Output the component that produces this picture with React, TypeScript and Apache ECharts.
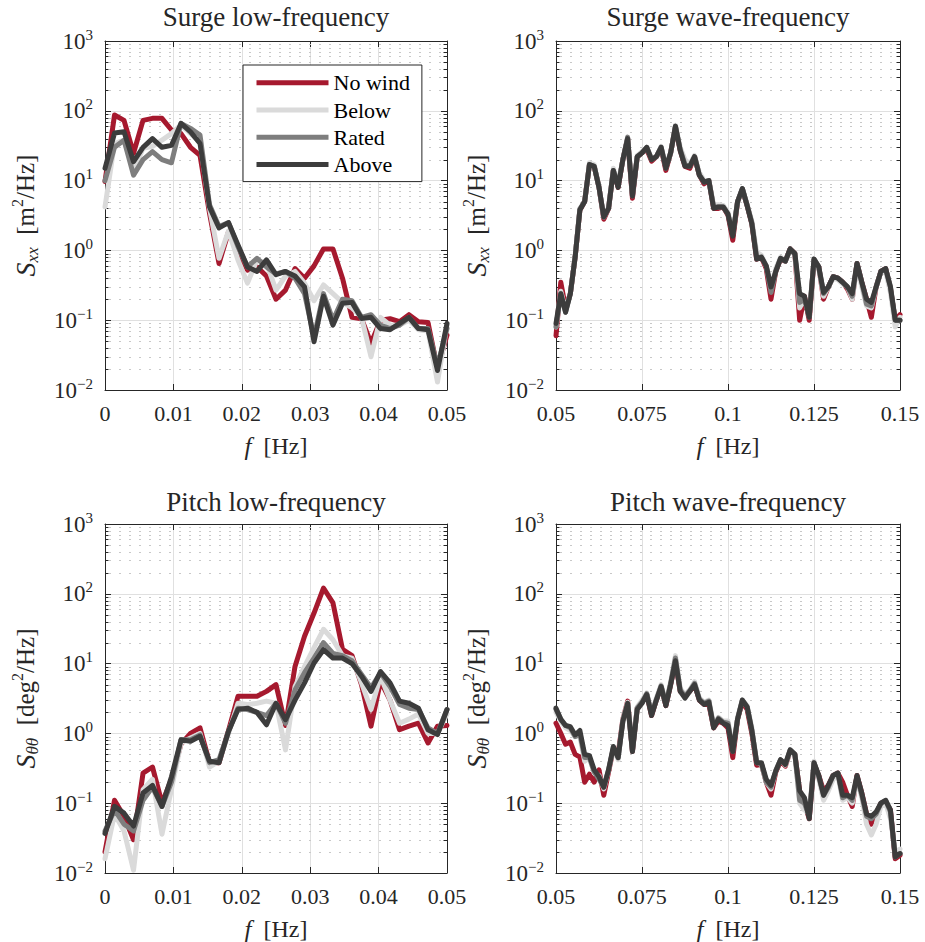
import React, { useEffect, useRef } from "react";
import * as echarts from "echarts";

const FONT = "Liberation Serif";
const INK = "#262626";

const seriesNames = ["No wind", "Below", "Rated", "Above"];
const seriesColors = ["#A6192E", "#DADADA", "#7E7E7E", "#3C3C3C"];

const panelTitles = [
  "Surge low-frequency",
  "Surge wave-frequency",
  "Pitch low-frequency",
  "Pitch wave-frequency",
];

// frequency grids [Hz]
const lowFreq = [
  0, 0.00139, 0.00278, 0.00417, 0.00556, 0.00694, 0.00833, 0.00972, 0.01111, 0.0125,
  0.01389, 0.01528, 0.01667, 0.01806, 0.01944, 0.02083, 0.02222, 0.02361, 0.025, 0.02639,
  0.02778, 0.02917, 0.03056, 0.03194, 0.03333, 0.03472, 0.03611, 0.0375, 0.03889, 0.04028,
  0.04167, 0.04306, 0.04444, 0.04583, 0.04722, 0.04861, 0.05,
];
const waveFreq = [
  0.05, 0.05139, 0.05278, 0.05417, 0.05556, 0.05694, 0.05833, 0.05972, 0.06111, 0.0625,
  0.06389, 0.06528, 0.06667, 0.06806, 0.06944, 0.07083, 0.07222, 0.07361, 0.075, 0.07639,
  0.07778, 0.07917, 0.08056, 0.08194, 0.08333, 0.08472, 0.08611, 0.0875, 0.08889, 0.09028,
  0.09167, 0.09306, 0.09444, 0.09583, 0.09722, 0.09861, 0.1, 0.10139, 0.10278, 0.10417,
  0.10556, 0.10694, 0.10833, 0.10972, 0.11111, 0.1125, 0.11389, 0.11528, 0.11667, 0.11806,
  0.11944, 0.12083, 0.12222, 0.12361, 0.125, 0.12639, 0.12778, 0.12917, 0.13056, 0.13194,
  0.13333, 0.13472, 0.13611, 0.1375, 0.13889, 0.14028, 0.14167, 0.14306, 0.14444, 0.14583,
  0.14722, 0.14861, 0.15,
];

// tick values
const lowTicks = [0, 0.01, 0.02, 0.03, 0.04, 0.05];
const waveTicks = [0.05, 0.075, 0.1, 0.125, 0.15];
const yDecades = [0.01, 0.1, 1, 10, 100, 1000];
const yMinorTicks = [
  0.02, 0.03, 0.04, 0.05, 0.06, 0.07, 0.08, 0.09,
  0.2, 0.3, 0.4, 0.5, 0.6, 0.7, 0.8, 0.9,
  2, 3, 4, 5, 6, 7, 8, 9,
  20, 30, 40, 50, 60, 70, 80, 90,
  200, 300, 400, 500, 600, 700, 800, 900,
];

// Surge low-frequency S_xx [m^2/Hz]
const surgeLowNoWind = [
  9.7, 87, 73, 24.6, 73, 78, 78, 53, 47, 30, 23, 3.4, 0.65, 1.85, 0.96, 0.52, 0.58, 0.43, 0.2,
  0.27, 0.55, 0.4, 0.6, 1.05, 1.05, 0.4, 0.11, 0.105, 0.047, 0.1, 0.105, 0.095, 0.12, 0.095,
  0.093, 0.02, 0.061,
];
const surgeLowBelow = [
  4.2, 34, 38, 14, 29, 31, 38, 47, 63, 47, 36, 4, 0.77, 1.9, 0.73, 0.34, 0.73, 0.65, 0.27, 0.43,
  0.5, 0.34, 0.19, 0.32, 0.24, 0.18, 0.15, 0.11, 0.03, 0.11, 0.085, 0.085, 0.1, 0.073, 0.07,
  0.013, 0.085,
];
const surgeLowRated = [
  10, 30, 38, 12, 20, 26, 20, 18, 66, 56, 45, 4.5, 2.2, 2.5, 1.13, 0.58, 0.77, 0.58, 0.46, 0.5,
  0.4, 0.24, 0.057, 0.24, 0.1, 0.2, 0.19, 0.11, 0.12, 0.085, 0.076, 0.085, 0.11, 0.076, 0.076,
  0.022, 0.076,
];
const surgeLowAbove = [
  15, 48, 50, 18.7, 30, 40, 30, 32, 66, 50, 34, 4.2, 2.1, 2.5, 1.2, 0.58, 0.5, 0.73, 0.45, 0.5,
  0.43, 0.3, 0.049, 0.22, 0.085, 0.175, 0.18, 0.106, 0.11, 0.076, 0.073, 0.09, 0.11, 0.076,
  0.073, 0.019, 0.09,
];

// Surge wave-frequency S_xx [m^2/Hz]
const surgeWaveNoWind = [
  0.06, 0.35, 0.15, 0.24, 0.8, 3.8, 5, 17, 16, 8, 2.8, 4, 14, 8, 20, 40, 5.6, 22, 25, 28, 19, 22,
  29, 14, 25, 58, 27, 16, 15, 22, 12, 9, 10, 4, 4, 4.2, 3.2, 1.4, 5, 7.5, 4.4, 2.4, 0.75, 0.8,
  0.55, 0.2, 0.5, 0.75, 0.7, 1.05, 0.9, 0.1, 0.22, 0.1, 0.72, 0.58, 0.2, 0.3, 0.42, 0.4, 0.35,
  0.28, 0.2, 0.65, 0.35, 0.2, 0.11, 0.3, 0.5, 0.55, 0.28, 0.1, 0.12,
];
const surgeWaveBelow = [
  0.08, 0.26, 0.14, 0.24, 0.85, 4, 5, 18, 17, 8, 3, 4.2, 15, 9, 20, 40, 6.5, 23, 26, 30, 21, 22,
  31, 16, 25, 62, 30, 20, 17, 23, 13, 10, 10, 4.5, 4.5, 4.4, 3.5, 1.8, 5, 7.7, 4.6, 2.6, 0.95,
  0.85, 0.6, 0.3, 0.55, 0.8, 0.7, 1.0, 0.9, 0.15, 0.2, 0.12, 0.75, 0.55, 0.22, 0.3, 0.4, 0.38,
  0.33, 0.3, 0.2, 0.6, 0.3, 0.16, 0.15, 0.3, 0.48, 0.5, 0.25, 0.08, 0.11,
];
const surgeWaveRated = [
  0.08, 0.24, 0.13, 0.24, 0.8, 3.9, 5, 17, 16, 8, 3, 4, 14, 8.5, 20, 42, 6, 22, 25, 30, 20, 22,
  30, 15, 25, 60, 28, 17, 16, 22, 12, 9.5, 10, 4.2, 4.2, 4.2, 3.3, 1.7, 5, 7.7, 4.4, 2.5, 0.8,
  0.8, 0.6, 0.25, 0.5, 0.77, 0.7, 1.05, 0.9, 0.18, 0.2, 0.11, 0.75, 0.58, 0.24, 0.3, 0.42, 0.4,
  0.35, 0.3, 0.22, 0.65, 0.35, 0.17, 0.16, 0.3, 0.5, 0.55, 0.3, 0.1, 0.1,
];
const surgeWaveAbove = [
  0.09, 0.24, 0.13, 0.24, 0.8, 3.8, 5, 17, 16, 8, 3, 4, 14, 8, 20, 40, 6, 22, 25, 30, 20, 22, 30,
  15, 25, 60, 27, 16, 16, 22, 12, 9.5, 10, 4, 4.2, 4.2, 3.3, 1.6, 5, 7.7, 4.4, 2.4, 0.75, 0.8,
  0.6, 0.3, 0.5, 0.77, 0.7, 1.05, 0.9, 0.24, 0.22, 0.11, 0.75, 0.58, 0.25, 0.3, 0.42, 0.4, 0.35,
  0.3, 0.24, 0.65, 0.35, 0.2, 0.18, 0.3, 0.5, 0.55, 0.3, 0.1, 0.1,
];

// Pitch low-frequency S_theta-theta [deg^2/Hz]
const pitchLowNoWind = [
  0.02, 0.11, 0.065, 0.03, 0.27, 0.33, 0.1, 0.22, 0.7, 1.0, 1.2, 0.38, 0.38, 1.1, 3.4, 3.4, 3.4,
  4.0, 5.0, 1.3, 9.1, 24.6, 53, 121, 74, 16, 13, 5, 1.27, 5.6, 3.0, 1.13, 1.27, 1.4, 0.73, 1.27,
  1.3,
];
const pitchLowBelow = [
  0.016, 0.07, 0.04, 0.011, 0.156, 0.22, 0.036, 0.16, 0.73, 0.86, 1.0, 0.33, 0.4, 1.0, 2.7, 2.6,
  2.7, 2.9, 2.7, 0.58, 4.7, 9.1, 17, 31, 22, 13, 12, 5.3, 2.2, 6.6, 3.0, 1.4, 1.6, 1.9, 1.0, 1.0,
  1.9,
];
const pitchLowRated = [
  0.04, 0.08, 0.05, 0.04, 0.11, 0.17, 0.09, 0.2, 0.81, 0.81, 0.95, 0.38, 0.42, 1.07, 2.3, 2.2,
  2.0, 1.8, 2.7, 1.4, 4.2, 7.4, 12, 20, 14, 13, 11, 7, 4.5, 7.4, 4.7, 2.6, 2.3, 2.2, 1.2, 1.0,
  2.2,
];
const pitchLowAbove = [
  0.037, 0.09, 0.072, 0.047, 0.14, 0.18, 0.09, 0.24, 0.81, 0.77, 0.91, 0.4, 0.38, 1.07, 2.2, 2.3,
  2.0, 1.33, 2.7, 1.57, 3.0, 5.3, 10.2, 15.8, 12, 12, 10, 6.6, 4.0, 7.7, 5.3, 2.9, 2.7, 2.3,
  1.13, 0.96, 2.2,
];

// Pitch wave-frequency S_theta-theta [deg^2/Hz]
const pitchWaveNoWind = [
  1.4, 1.0, 0.7, 0.75, 0.5, 0.46, 0.2, 0.26, 0.2, 0.3, 0.13, 0.28, 0.6, 0.5, 1.6, 2.9, 0.55, 2.3,
  2.8, 3.6, 1.8, 3.0, 4.7, 2.5, 5.0, 10.5, 4.0, 3.5, 4.0, 5.0, 3.0, 2.6, 2.6, 1.2, 1.5, 1.4, 1.2,
  0.45, 1.6, 2.8, 2.2, 1.0, 0.35, 0.36, 0.2, 0.13, 0.28, 0.4, 0.34, 0.55, 0.5, 0.15, 0.1, 0.06,
  0.36, 0.25, 0.15, 0.18, 0.25, 0.27, 0.2, 0.13, 0.09, 0.25, 0.14, 0.07, 0.05, 0.07, 0.1, 0.1,
  0.08, 0.016, 0.018,
];
const pitchWaveBelow = [
  2.0, 1.5, 1.2, 1.1, 0.9, 0.9, 0.4, 0.45, 0.27, 0.25, 0.16, 0.3, 0.6, 0.42, 1.6, 2.8, 0.6, 2.4,
  3.0, 3.8, 2.0, 3.2, 5.0, 2.7, 5.5, 13, 4.4, 3.6, 4.2, 5.5, 3.2, 2.8, 3.0, 1.3, 1.7, 1.5, 1.5,
  0.6, 1.7, 3.0, 2.5, 1.2, 0.4, 0.36, 0.2, 0.16, 0.3, 0.42, 0.35, 0.55, 0.5, 0.1, 0.08, 0.07,
  0.4, 0.22, 0.11, 0.15, 0.22, 0.25, 0.11, 0.12, 0.1, 0.22, 0.12, 0.05, 0.035, 0.05, 0.09, 0.1,
  0.06, 0.02, 0.022,
];
const pitchWaveRated = [
  2.2, 1.6, 1.3, 1.2, 0.9, 1.0, 0.45, 0.45, 0.28, 0.22, 0.17, 0.3, 0.62, 0.45, 1.5, 2.7, 0.55,
  2.3, 2.8, 3.7, 1.9, 3.0, 4.8, 2.6, 5.2, 12, 4.2, 3.4, 4.1, 5.2, 3.1, 2.7, 2.9, 1.25, 1.65, 1.45,
  1.4, 0.55, 1.6, 3.0, 2.4, 1.1, 0.38, 0.37, 0.2, 0.17, 0.29, 0.42, 0.36, 0.58, 0.5, 0.11, 0.1,
  0.065, 0.38, 0.24, 0.13, 0.17, 0.25, 0.27, 0.12, 0.13, 0.11, 0.24, 0.13, 0.065, 0.06, 0.07,
  0.1, 0.11, 0.075, 0.017, 0.019,
];
const pitchWaveAbove = [
  2.3, 1.6, 1.3, 1.25, 0.95, 1.1, 0.5, 0.48, 0.3, 0.24, 0.17, 0.3, 0.65, 0.45, 1.5, 2.7, 0.55,
  2.2, 2.7, 3.6, 1.8, 3.0, 4.7, 2.5, 5.0, 11, 4.0, 3.2, 4.0, 5.0, 3.0, 2.6, 2.8, 1.2, 1.6, 1.4,
  1.3, 0.55, 1.6, 3.0, 2.4, 1.1, 0.38, 0.38, 0.22, 0.18, 0.29, 0.42, 0.36, 0.58, 0.5, 0.15, 0.12,
  0.06, 0.38, 0.25, 0.13, 0.18, 0.25, 0.27, 0.13, 0.13, 0.12, 0.25, 0.14, 0.07, 0.065, 0.075,
  0.1, 0.11, 0.08, 0.017, 0.019,
];

const panels = [
  {
    title: panelTitles[0],
    grid: { left: 105, top: 41, width: 342, height: 349 },
    titleX: 276, titleY: 17,
    freq: lowFreq, ticks: lowTicks, xInterval: 0.01,
    sub: "xx", unit: "m",
    data: [surgeLowNoWind, surgeLowBelow, surgeLowRated, surgeLowAbove],
  },
  {
    title: panelTitles[1],
    grid: { left: 556, top: 41, width: 344, height: 349 },
    titleX: 728, titleY: 17,
    freq: waveFreq, ticks: waveTicks, xInterval: 0.025,
    sub: "xx", unit: "m",
    data: [surgeWaveNoWind, surgeWaveBelow, surgeWaveRated, surgeWaveAbove],
  },
  {
    title: panelTitles[2],
    grid: { left: 105, top: 524, width: 342, height: 349 },
    titleX: 276, titleY: 502,
    freq: lowFreq, ticks: lowTicks, xInterval: 0.01,
    sub: "\u03b8\u03b8", unit: "deg",
    data: [pitchLowNoWind, pitchLowBelow, pitchLowRated, pitchLowAbove],
  },
  {
    title: panelTitles[3],
    grid: { left: 556, top: 524, width: 344, height: 349 },
    titleX: 728, titleY: 502,
    freq: waveFreq, ticks: waveTicks, xInterval: 0.025,
    sub: "\u03b8\u03b8", unit: "deg",
    data: [pitchWaveNoWind, pitchWaveBelow, pitchWaveRated, pitchWaveAbove],
  },
];

const yMin = yDecades[0];
const yMax = yDecades[yDecades.length - 1];

function buildOption() {
  const grids: any[] = [];
  const xAxes: any[] = [];
  const yAxes: any[] = [];
  const series: any[] = [];
  const graphics: any[] = [];

  const axisLineStyle = { color: INK, width: 1 };

  panels.forEach((p, i) => {
    const xMin = p.ticks[0];
    const xMax = p.ticks[p.ticks.length - 1];
    grids.push({ ...p.grid, containLabel: false, outerBoundsMode: "none" });

    graphics.push({
      type: "text",
      x: p.titleX,
      y: p.titleY,
      silent: true,
      style: {
        text: p.title,
        fill: INK,
        fontFamily: FONT,
        fontSize: 27,
        align: "center",
        verticalAlign: "middle",
      },
    });

    xAxes[i] = {
      type: "value",
      gridIndex: i,
      position: "bottom",
      min: xMin,
      max: xMax,
      interval: p.xInterval,
      name: "{it|f}{r|  [Hz]}",
      nameLocation: "middle",
      nameGap: 43,
      nameTextStyle: {
        fontFamily: FONT,
        fontSize: 24,
        color: INK,
        rich: {
          it: { fontFamily: FONT, fontStyle: "italic", fontSize: 25, lineHeight: 26, color: INK },
          r: { fontFamily: FONT, fontSize: 24, lineHeight: 26, color: INK },
        },
      },
      axisLine: { show: true, onZero: false, lineStyle: axisLineStyle },
      axisTick: { show: true, inside: true, length: 6, lineStyle: axisLineStyle },
      axisLabel: {
        show: true,
        margin: 11,
        fontFamily: FONT,
        fontSize: 22,
        lineHeight: 24,
        color: INK,
        showMinLabel: true,
        showMaxLabel: true,
        hideOverlap: false,
        formatter: (v: number) => `{n|${String(Number(v.toFixed(4)))}}`,
        rich: {
          n: { fontFamily: FONT, fontSize: 22, lineHeight: 24, color: INK },
        },
      },
      splitLine: { show: true, lineStyle: { color: "#E0E0E0", width: 1 } },
    };
    xAxes[i + 4] = {
      type: "value",
      gridIndex: i,
      position: "top",
      min: xMin,
      max: xMax,
      interval: p.xInterval,
      axisLine: { show: true, onZero: false, lineStyle: axisLineStyle },
      axisTick: { show: true, inside: true, length: 6, lineStyle: axisLineStyle },
      axisLabel: { show: false },
      splitLine: { show: false },
    };

    yAxes[i] = {
      type: "log",
      logBase: 10,
      gridIndex: i,
      position: "left",
      min: yMin,
      max: yMax,
      splitNumber: 5,
      name: `{it|S}{sub|${p.sub}}{r|  [${p.unit}}{sup|2}{r|/Hz]}`,
      nameLocation: "middle",
      nameRotate: 90,
      nameGap: 64,
      nameTextStyle: {
        fontFamily: FONT,
        fontSize: 25,
        color: INK,
        rich: {
          it: { fontFamily: FONT, fontStyle: "italic", fontSize: 28, lineHeight: 32, color: INK },
          sub: {
            fontFamily: FONT,
            fontStyle: "italic",
            fontSize: 17,
            lineHeight: 18,
            verticalAlign: "bottom",
            color: INK,
          },
          r: { fontFamily: FONT, fontSize: 25, lineHeight: 32, color: INK },
          sup: { fontFamily: FONT, fontSize: 16, lineHeight: 21, verticalAlign: "top", color: INK },
        },
      },
      axisLine: { show: true, onZero: false, lineStyle: axisLineStyle },
      axisTick: { show: true, inside: true, length: 6, lineStyle: axisLineStyle },
      axisLabel: {
        show: true,
        margin: 12,
        color: INK,
        fontFamily: FONT,
        showMinLabel: true,
        showMaxLabel: true,
        formatter: (v: number) => {
          const e = Math.round(Math.log10(v));
          const es = e < 0 ? "\u2212" + Math.abs(e) : String(e);
          return `{b|10}{s|${es}}`;
        },
        rich: {
          b: { fontFamily: FONT, fontSize: 23, lineHeight: 28, color: INK },
          s: { fontFamily: FONT, fontSize: 15, lineHeight: 19, verticalAlign: "top", color: INK },
        },
      },
      splitLine: { show: true, lineStyle: { color: "#E0E0E0", width: 1 } },
    };
    yAxes[i + 4] = {
      type: "log",
      logBase: 10,
      gridIndex: i,
      position: "right",
      min: yMin,
      max: yMax,
      splitNumber: 5,
      axisLine: { show: true, onZero: false, lineStyle: axisLineStyle },
      axisTick: { show: true, inside: true, length: 6, lineStyle: axisLineStyle },
      axisLabel: { show: false },
      splitLine: { show: false },
    };

    // minor grid (dotted) and minor ticks, positioned through the log axis
    series.push({
      type: "custom",
      name: `minor-${i}`,
      xAxisIndex: i,
      yAxisIndex: i,
      silent: true,
      z: 1,
      data: yMinorTicks.map((v) => [xMin, v]),
      encode: { x: 0, y: 1 },
      renderItem: (params: any, api: any) => {
        const cs = params.coordSys;
        const y = Math.round(api.coord([api.value(0), api.value(1)])[1]) + 0.5;
        return {
          type: "group",
          children: [
            {
              type: "line",
              shape: { x1: cs.x, y1: y, x2: cs.x + cs.width, y2: y },
              style: { stroke: "#C8C8C8", lineWidth: 1, lineDash: [2, 8], lineDashOffset: -4 },
            },
            {
              type: "line",
              shape: { x1: cs.x, y1: y, x2: cs.x + 3.5, y2: y },
              style: { stroke: INK, lineWidth: 1 },
            },
            {
              type: "line",
              shape: { x1: cs.x + cs.width - 3.5, y1: y, x2: cs.x + cs.width, y2: y },
              style: { stroke: INK, lineWidth: 1 },
            },
          ],
        };
      },
    });

    p.data.forEach((vals, s) => {
      series.push({
        type: "line",
        name: seriesNames[s],
        xAxisIndex: i,
        yAxisIndex: i,
        data: p.freq.map((f, k) => [f, vals[k]]),
        showSymbol: false,
        symbol: "none",
        clip: true,
        silent: true,
        z: 2 + s,
        color: seriesColors[s],
        itemStyle: { color: seriesColors[s] },
        lineStyle: { color: seriesColors[s], width: 5, join: "round", cap: "round" },
      });
    });
  });

  return {
    animation: false,
    backgroundColor: "#ffffff",
    textStyle: { fontFamily: FONT },
    grid: grids,
    xAxis: xAxes,
    yAxis: yAxes,
    series,
    graphic: graphics,
    legend: {
      show: true,
      orient: "vertical",
      left: 243,
      top: 65,
      padding: [6.7, 12, 6, 13.5],
      itemWidth: 72,
      itemHeight: 5,
      itemGap: 5.3,
      icon: "rect",
      selectedMode: false,
      backgroundColor: "#ffffff",
      borderColor: INK,
      borderWidth: 1,
      borderRadius: 0,
      data: seriesNames,
      textStyle: { fontFamily: FONT, fontSize: 22, lineHeight: 22, color: "#000000" },
    },
  };
}

export default function App() {
  const ref = useRef<HTMLDivElement>(null);
  useEffect(() => {
    if (!ref.current) return;
    const chart = echarts.init(ref.current, undefined, { renderer: "svg" });
    chart.setOption(buildOption() as any);
    return () => chart.dispose();
  }, []);
  return (
    <div
      ref={ref}
      style={{ position: "fixed", left: 0, top: 0, width: 925, height: 942, background: "#fff" }}
    />
  );
}
